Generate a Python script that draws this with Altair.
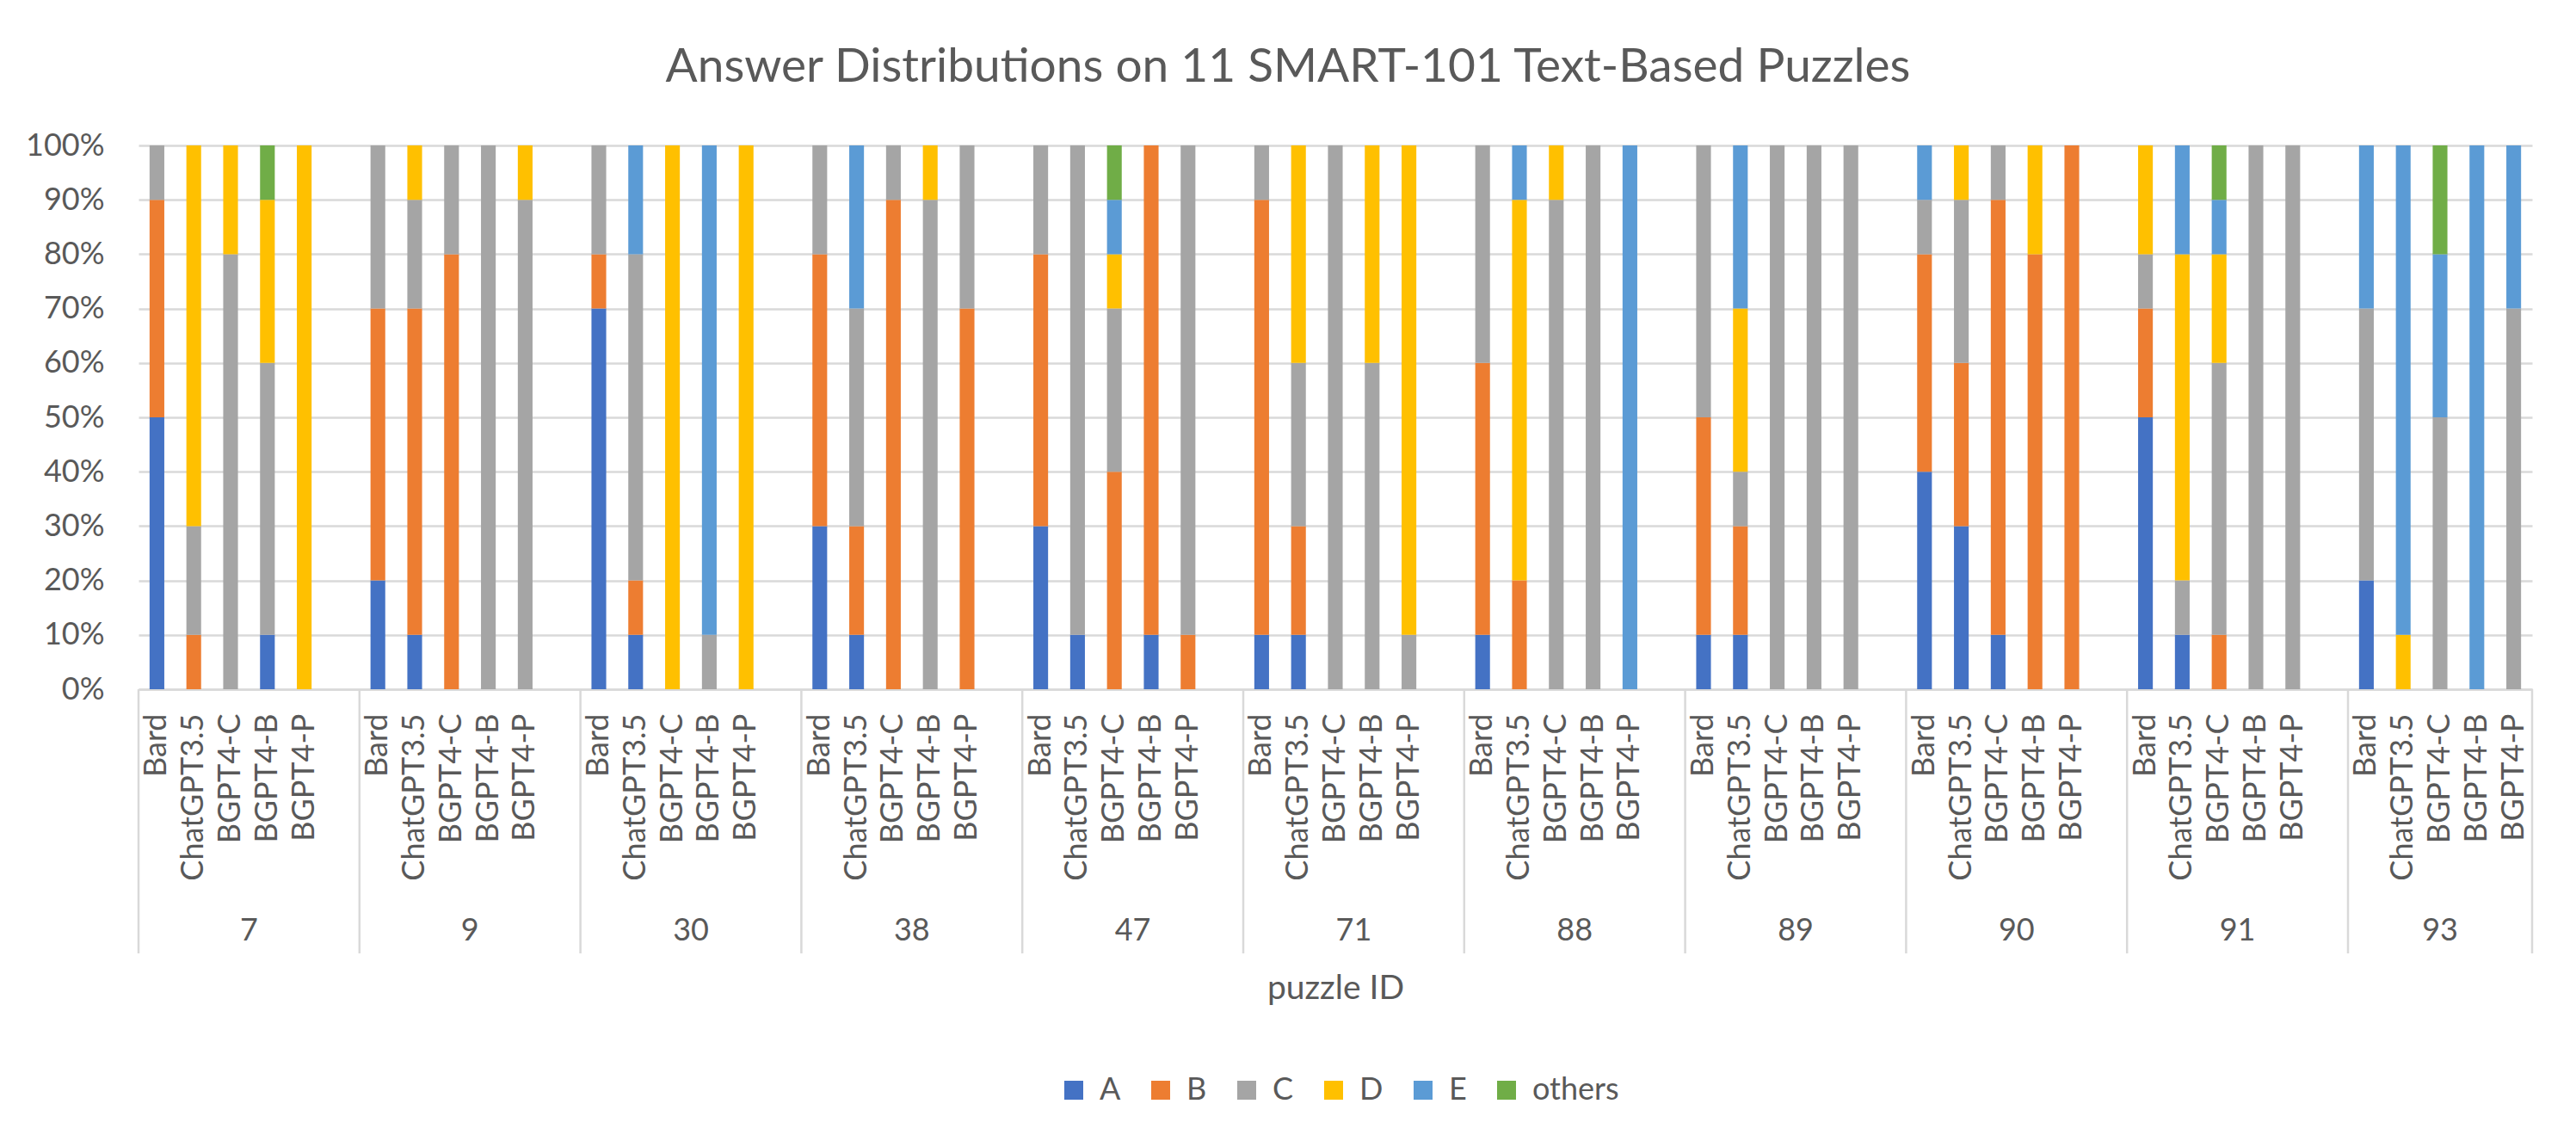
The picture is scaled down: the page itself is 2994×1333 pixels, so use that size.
import altair as alt
import pandas as pd

# ---------------- data ----------------
puzzles = ["7", "9", "30", "38", "47", "71", "88", "89", "90", "91", "93"]
models = ["Bard", "ChatGPT3.5", "BGPT4-C", "BGPT4-B", "BGPT4-P"]
answers = ["A", "B", "C", "D", "E", "others"]
colors = ["#4472C4", "#ED7D31", "#A5A5A5", "#FFC000", "#5B9BD5", "#70AD47"]

# percentages, one row per puzzle, columns in model order
A = [50, 0, 0, 10, 0,   20, 10, 0, 0, 0,   70, 10, 0, 0, 0,   30, 10, 0, 0, 0,
     30, 10, 0, 10, 0,  10, 10, 0, 0, 0,   10, 0, 0, 0, 0,    10, 10, 0, 0, 0,
     40, 30, 10, 0, 0,  50, 10, 0, 0, 0,   20, 0, 0, 0, 0]
B = [40, 10, 0, 0, 0,   50, 60, 80, 0, 0,  10, 10, 0, 0, 0,   50, 20, 90, 0, 70,
     50, 0, 40, 90, 10, 80, 20, 0, 0, 0,   50, 20, 0, 0, 0,   40, 20, 0, 0, 0,
     40, 30, 80, 80, 100, 20, 0, 10, 0, 0, 0, 0, 0, 0, 0]
C = [10, 20, 80, 50, 0,   30, 20, 20, 100, 90, 20, 60, 0, 10, 0,  20, 40, 10, 90, 30,
     20, 90, 30, 0, 90,   10, 30, 100, 60, 10, 40, 0, 90, 100, 0, 50, 10, 100, 100, 100,
     10, 30, 10, 0, 0,    10, 10, 50, 100, 100, 50, 0, 50, 0, 70]
D = [0, 70, 20, 30, 100, 0, 10, 0, 0, 10,  0, 0, 100, 0, 100,  0, 0, 0, 10, 0,
     0, 0, 10, 0, 0,     0, 40, 0, 40, 90,  0, 70, 10, 0, 0,    0, 30, 0, 0, 0,
     0, 10, 0, 20, 0,    20, 60, 20, 0, 0,  0, 10, 0, 0, 0]
E = [0, 0, 0, 0, 0,      0, 0, 0, 0, 0,     0, 20, 0, 90, 0,    0, 30, 0, 0, 0,
     0, 0, 10, 0, 0,     0, 0, 0, 0, 0,     0, 10, 0, 0, 100,   0, 30, 0, 0, 0,
     10, 0, 0, 0, 0,     0, 20, 10, 0, 0,   30, 90, 30, 100, 30]
others = [0, 0, 0, 10, 0, 0, 0, 0, 0, 0,   0, 0, 0, 0, 0,      0, 0, 0, 0, 0,
          0, 0, 10, 0, 0, 0, 0, 0, 0, 0,   0, 0, 0, 0, 0,      0, 0, 0, 0, 0,
          0, 0, 0, 0, 0,  0, 0, 10, 0, 0,  0, 0, 20, 0, 0]
series = {"A": A, "B": B, "C": C, "D": D, "E": E, "others": others}

# ---------------- tables ----------------
slot_keys = []          # category slots along the x axis (blank slot between puzzles)
for gi, p in enumerate(puzzles):
    for m in models:
        slot_keys.append(f"{p}|{m}")
    if gi < len(puzzles) - 1:
        slot_keys.append(f"{p}|")
n_slots = len(slot_keys)

rows = []
for gi, p in enumerate(puzzles):
    for mi, m in enumerate(models):
        idx = gi * len(models) + mi
        for ai, a in enumerate(answers):
            v = series[a][idx]
            if v > 0:
                rows.append({"key": f"{p}|{m}", "answer": a, "ord": ai, "value": v / 100})
bars_df = pd.DataFrame(rows)

bounds, groups = [], []
pos = 0
for gi, p in enumerate(puzzles):
    size = len(models) + (1 if gi < len(puzzles) - 1 else 0)
    bounds.append({"pos": pos})
    groups.append({"pid": p, "mid": pos + size / 2})
    pos += size
bounds.append({"pos": pos})
bounds_df = pd.DataFrame(bounds)
groups_df = pd.DataFrame(groups)

# ---------------- style ----------------
FONT = "Lato"
TXT = "#595959"
GRID = "#D9D9D9"
W, H = 2782, 632

lin_x = alt.Scale(domain=[0, n_slots], nice=False, zero=True)

bars = alt.Chart(bars_df).mark_bar().encode(
    x=alt.X(
        "key:N",
        scale=alt.Scale(domain=slot_keys, paddingInner=0.6, paddingOuter=0.3),
        sort=slot_keys,
        axis=alt.Axis(
            labelExpr="substring(datum.value, indexof(datum.value, '|') + 1)",
            labelAngle=270, labelAlign="right", labelBaseline="middle",
            labelPadding=28, labelFontSize=36, labelFont=FONT, labelColor=TXT,
            labelOverlap=False, labelLimit=500,
            ticks=False, domainColor=GRID, domainWidth=2.5,
            title="puzzle ID", titleFont=FONT, titleFontSize=39, titleColor=TXT,
            titleFontWeight="normal", titleBaseline="alphabetic", titleY=359,
        ),
    ),
    y=alt.Y(
        "value:Q",
        stack="zero",
        scale=alt.Scale(domain=[0, 1], nice=False),
        axis=alt.Axis(
            values=[i / 10 for i in range(11)], format=".0%",
            grid=True, gridColor=GRID, gridWidth=2.5,
            domain=False, ticks=False, labelPadding=40,
            labelFontSize=36, labelFont=FONT, labelColor=TXT, title=None,
        ),
    ),
    color=alt.Color(
        "answer:N",
        scale=alt.Scale(domain=answers, range=colors),
        legend=alt.Legend(
            title=None, orient="none", direction="horizontal",
            legendX=1069, legendY=1080, padding=0,
            symbolType="square", symbolSize=484, symbolStrokeWidth=0,
            labelFontSize=36, labelFont=FONT, labelColor=TXT,
            labelOffset=12, columnPadding=28,
        ),
    ),
    order=alt.Order("ord:Q", sort="ascending"),
)

dividers = alt.Chart(bounds_df).mark_rule(color=GRID, strokeWidth=2.5).encode(
    x=alt.X("pos:Q", scale=lin_x, axis=None),
    y=alt.value(H),
    y2=alt.value(H + 307),
)

group_labels = alt.Chart(groups_df).mark_text(
    font=FONT, fontSize=36, color=TXT, baseline="alphabetic", align="center"
).encode(
    x=alt.X("mid:Q", scale=lin_x, axis=None),
    y=alt.value(H + 292),
    text="pid:N",
)

chart = alt.layer(bars, dividers, group_labels).resolve_scale(
    x="independent"
).properties(
    width=W,
    height=H,
    title=alt.TitleParams(
        "Answer Distributions on 11 SMART-101 Text-Based Puzzles",
        font=FONT, fontSize=55, fontWeight="normal", color=TXT,
        anchor="middle", dx=-55, offset=1, baseline="alphabetic",
    ),
    autosize=alt.AutoSizeParams(type="none"),
    padding={"left": 153, "top": 161, "right": 30, "bottom": 520},
    background="white",
).configure_view(stroke=None)

chart.save("out.html", embed_options={"renderer": "svg", "actions": False})
